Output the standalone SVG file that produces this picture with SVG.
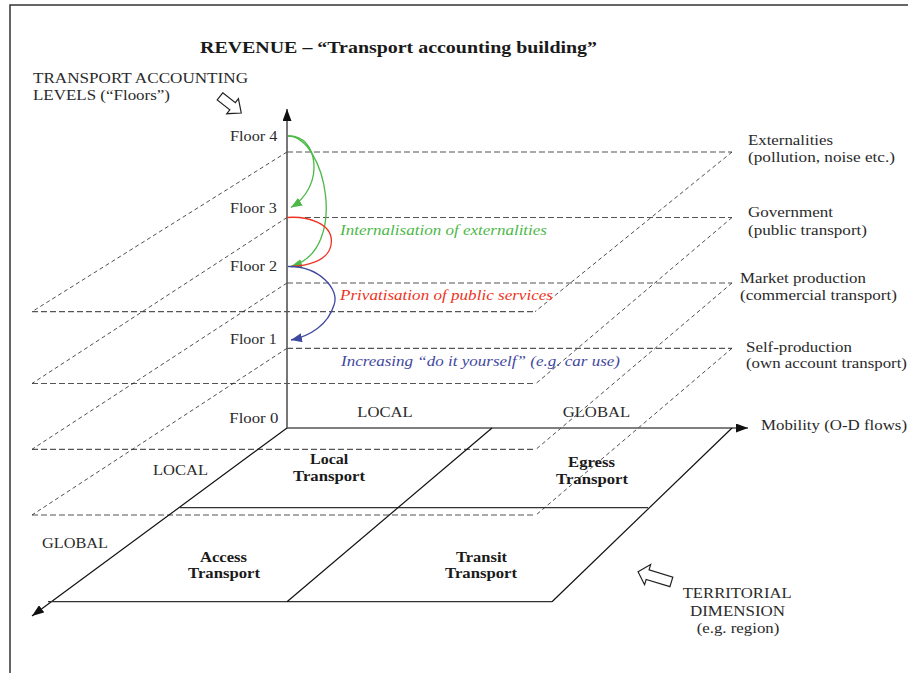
<svg xmlns="http://www.w3.org/2000/svg" width="908" height="673" viewBox="0 0 908 673">
<style>
  .t{font-family:"Liberation Serif","Times New Roman",serif;font-size:15px;fill:#2a2a2a}
  .b{font-family:"Liberation Serif","Times New Roman",serif;font-size:14px;font-weight:bold;fill:#1a1a1a}
  .i{font-family:"Liberation Serif","Times New Roman",serif;font-size:14.5px;font-style:italic}
  .hd{fill:none;stroke:#555;stroke-width:1.2;stroke-dasharray:6 3}
  .sd{fill:none;stroke:#222;stroke-width:0.8;stroke-dasharray:4 3}
  .ax{fill:none;stroke:#555;stroke-width:1.6}
  .sl{fill:none;stroke:#111;stroke-width:1.2}
  .hollow{fill:#fff;stroke:#222;stroke-width:1.2;stroke-linejoin:miter}
  .cv{fill:none;stroke-width:1.3}
</style>
<defs>
  <marker id="ahBlack" markerUnits="userSpaceOnUse" viewBox="0 0 12 9" markerWidth="12" markerHeight="9" refX="12" refY="4.5" orient="auto">
    <path d="M0,0 L12,4.5 L0,9 z" fill="#111"/>
  </marker>
  <marker id="ahGreen" markerUnits="userSpaceOnUse" viewBox="0 0 11 9" markerWidth="11" markerHeight="9" refX="11" refY="4.5" orient="auto">
    <path d="M0,0 L11,4.5 L0,9 z" fill="#4cb848"/>
  </marker>
  <marker id="ahBlue" markerUnits="userSpaceOnUse" viewBox="0 0 11 9" markerWidth="11" markerHeight="9" refX="11" refY="4.5" orient="auto">
    <path d="M0,0 L11,4.5 L0,9 z" fill="#3f48a0"/>
  </marker>
</defs>
<rect width="908" height="673" fill="#fff"/>

<!-- frame -->
<g id="frame">
  <path d="M10,673 L10,5 L908,5" fill="none" stroke="#333" stroke-width="1.5"/>
</g>

<g id="title">
  <text class="b" x="200" y="53" style="font-size:16px" textLength="397" lengthAdjust="spacingAndGlyphs">REVENUE – “Transport accounting building”</text>
</g>

<g id="levels-label">
  <text class="t" x="33" y="83" textLength="215" lengthAdjust="spacingAndGlyphs">TRANSPORT ACCOUNTING</text>
  <text class="t" x="33" y="100" textLength="137" lengthAdjust="spacingAndGlyphs">LEVELS (“Floors”)</text>
  <polygon class="hollow" transform="translate(231,105) rotate(38)" points="-14,-4.5 2,-4.5 2,-9.5 13,0 2,9.5 2,4.5 -14,4.5"/>
</g>

<!-- dashed floor planes -->
<g id="floor4-plane">
  <path class="hd" d="M287,152 L732,152 M32,311.7 L535,311.7"/>
  <path class="sd" d="M287,152 L32,311.7 M732,152 L535,311.7"/>
</g>
<g id="floor3-plane">
  <path class="hd" d="M287,217.5 L732,217.5 M32,383.5 L536,383.5"/>
  <path class="sd" d="M287,217.5 L32,383.5 M732,217.5 L536,383.5"/>
</g>
<g id="floor2-plane">
  <path class="hd" d="M287,283 L732,283 M32,449.3 L536,449.3"/>
  <path class="sd" d="M287,283 L32,449.3 M732,283 L536,449.3"/>
</g>
<g id="floor1-plane">
  <path class="hd" d="M287,348.3 L732,348.3 M32,515 L536,515"/>
  <path class="sd" d="M287,348.3 L32,515 M732,348.3 L536,515"/>
</g>

<!-- floor 0 solid plane -->
<g id="floor0-plane">
  <line class="ax" x1="287" y1="428" x2="748" y2="428" marker-end="url(#ahBlack)"/>
  <line class="sl" x1="287" y1="428" x2="32" y2="616" marker-end="url(#ahBlack)"/>
  <line x1="48" y1="601.7" x2="552" y2="601.7" stroke="#333" stroke-width="1.3"/>
  <line x1="180" y1="507.7" x2="648" y2="507.7" stroke="#333" stroke-width="1.3"/>
  <line class="sl" x1="732" y1="428" x2="552" y2="601.7"/>
  <line class="sl" x1="492" y1="428" x2="287" y2="601.7"/>
</g>

<!-- vertical axis -->
<g id="vertical-axis">
  <line class="ax" x1="287" y1="428" x2="287" y2="109" marker-end="url(#ahBlack)"/>
</g>

<g id="floor-labels">
  <text class="t" x="230" y="140.5" textLength="47.5" lengthAdjust="spacingAndGlyphs">Floor 4</text>
  <text class="t" x="230" y="213" textLength="46.7" lengthAdjust="spacingAndGlyphs">Floor 3</text>
  <text class="t" x="230" y="271" textLength="47" lengthAdjust="spacingAndGlyphs">Floor 2</text>
  <text class="t" x="230" y="343.5" textLength="46.7" lengthAdjust="spacingAndGlyphs">Floor 1</text>
  <text class="t" x="229.3" y="423.3" textLength="49" lengthAdjust="spacingAndGlyphs">Floor 0</text>
</g>

<g id="level-names">
  <text class="t" x="748" y="145" textLength="85" lengthAdjust="spacingAndGlyphs">Externalities</text>
  <text class="t" x="748" y="161.5" textLength="147" lengthAdjust="spacingAndGlyphs">(pollution, noise etc.)</text>
  <text class="t" x="748" y="217" textLength="85" lengthAdjust="spacingAndGlyphs">Government</text>
  <text class="t" x="748" y="235" textLength="119" lengthAdjust="spacingAndGlyphs">(public transport)</text>
  <text class="t" x="740" y="283" textLength="126" lengthAdjust="spacingAndGlyphs">Market production</text>
  <text class="t" x="740" y="300" textLength="157" lengthAdjust="spacingAndGlyphs">(commercial transport)</text>
  <text class="t" x="746" y="352" textLength="106" lengthAdjust="spacingAndGlyphs">Self-production</text>
  <text class="t" x="746" y="368" textLength="161" lengthAdjust="spacingAndGlyphs">(own account transport)</text>
  <text class="t" x="761" y="430" textLength="146" lengthAdjust="spacingAndGlyphs">Mobility (O-D flows)</text>
</g>

<g id="scale-labels">
  <text class="t" x="357.3" y="416.7" textLength="55.4" lengthAdjust="spacingAndGlyphs">LOCAL</text>
  <text class="t" x="562.7" y="416.7" textLength="67.5" lengthAdjust="spacingAndGlyphs">GLOBAL</text>
  <text class="t" x="153" y="475" textLength="55" lengthAdjust="spacingAndGlyphs">LOCAL</text>
  <text class="t" x="42" y="547.7" textLength="66" lengthAdjust="spacingAndGlyphs">GLOBAL</text>
</g>

<g id="local-transport">
  <text class="b" x="310" y="464" textLength="38.3" lengthAdjust="spacingAndGlyphs">Local</text>
  <text class="b" x="293" y="480.7" textLength="72" lengthAdjust="spacingAndGlyphs">Transport</text>
</g>
<g id="egress-transport">
  <text class="b" x="568" y="467" textLength="47" lengthAdjust="spacingAndGlyphs">Egress</text>
  <text class="b" x="556" y="484" textLength="72" lengthAdjust="spacingAndGlyphs">Transport</text>
</g>
<g id="access-transport">
  <text class="b" x="200" y="561.7" textLength="47" lengthAdjust="spacingAndGlyphs">Access</text>
  <text class="b" x="188" y="578" textLength="72" lengthAdjust="spacingAndGlyphs">Transport</text>
</g>
<g id="transit-transport">
  <text class="b" x="456" y="561.7" textLength="51" lengthAdjust="spacingAndGlyphs">Transit</text>
  <text class="b" x="445" y="578" textLength="72" lengthAdjust="spacingAndGlyphs">Transport</text>
</g>

<g id="territorial-label">
  <polygon class="hollow" transform="translate(654.7,576.8) rotate(196.9)" points="-17.4,-5 7.4,-5 7.4,-10.5 17.4,0 7.4,10.5 7.4,5 -17.4,5"/>
  <text class="t" x="682.7" y="598" textLength="109" lengthAdjust="spacingAndGlyphs">TERRITORIAL</text>
  <text class="t" x="690" y="616" textLength="95" lengthAdjust="spacingAndGlyphs">DIMENSION</text>
  <text class="t" x="696.7" y="633" textLength="82.6" lengthAdjust="spacingAndGlyphs">(e.g. region)</text>
</g>

<!-- connectors -->
<g id="connectors">
  <path class="cv" stroke="#4cb848" d="M288,136 C318,134 326,186 291,207.5" marker-end="url(#ahGreen)"/>
  <path class="cv" stroke="#4cb848" d="M288,136 C325,136 350,250 291,266.5" marker-end="url(#ahGreen)"/>
  <path class="cv" stroke="#ee3322" d="M287,217.5 C305,216 335,222 331,245 C328,262 305,266 291,266.5"/>
  <path class="cv" stroke="#3f48a0" d="M288,266.5 C320,266 340,290 334,305 C328,325 310,336 291,340" marker-end="url(#ahBlue)"/>
</g>

<g id="connector-labels">
  <text class="i" x="340" y="235" fill="#4cb848" textLength="207" lengthAdjust="spacingAndGlyphs">Internalisation of externalities</text>
  <text class="i" x="340" y="300" fill="#ee3322" textLength="213" lengthAdjust="spacingAndGlyphs">Privatisation of public services</text>
  <text class="i" x="341" y="366" fill="#3f48a0" textLength="279" lengthAdjust="spacingAndGlyphs">Increasing “do it yourself” (e.g. car use)</text>
</g>
</svg>
